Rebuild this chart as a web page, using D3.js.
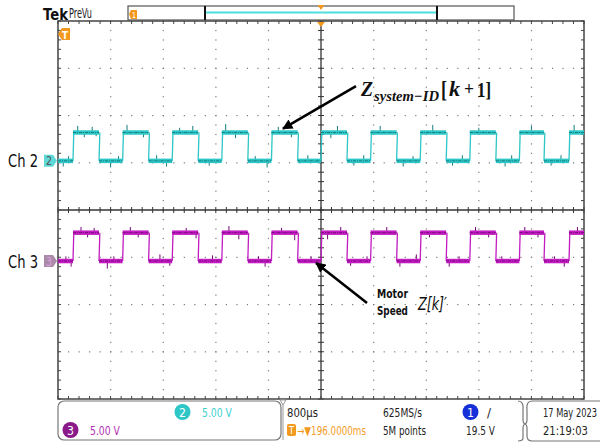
<!DOCTYPE html>
<html>
<head>
<meta charset="utf-8">
<script src="https://cdn.jsdelivr.net/npm/d3@7"></script>
<style>
  body { margin: 0; background: #fff; }
  svg { display: block; }
  .ui { font-family: "DejaVu Sans", sans-serif; }
</style>
</head>
<body>
<svg class="chart" width="600" height="443"></svg>
<script>
// horizontal: 800 us/div, 10 divs; vertical: 8 divs
var timeDomain = [-4000, 4000];
var divDomain = [-4, 4];
var voltsPerDiv = 5;

// edge times (us), same for both channels
var risingEdges = [-3772, -3017, -2263, -1509, -754, 0, 754, 1509, 2263, 3017, 3772];
var fallingEdges = [-3376, -2622, -1868, -1113, -355, 395, 1150, 1904, 2659, 3392];

var highVolts = 3.0, lowVolts = 0.0;
var ch2Offset = 1.04;   // divs
var ch3Offset = -1.08;

// noise spikes [time us, volts]
var ch2Spikes = [[-3920,-0.6],[-3840,0.5],[-3700,0.7],[-3600,-0.5],[-3480,0.6],[-3420,-0.4],[-3200,-0.7],[-3080,0.5],[-2950,0.8],[-2700,-0.5],[-2500,0.6],[-2350,-0.6],[-2150,0.5],[-1950,0.7],[-1700,-0.5],[-1450,0.9],[-1300,-0.6],[-1000,0.5],[-820,-0.7],[-650,0.6],[-450,-0.5],[-200,0.6],[150,-0.6],[250,0.7],[500,-0.5],[650,0.6],[900,0.7],[1250,-0.6],[1400,0.5],[1700,0.8],[2000,-0.5],[2150,0.6],[2400,0.5],[2800,-0.6],[2900,0.6],[3200,0.7],[3500,-0.5],[3650,0.6],[3850,0.8]];
var ch3Spikes = [[-3880,0.5],[-3800,-0.6],[-3650,0.6],[-3550,-0.5],[-3450,0.5],[-3250,-0.8],[-3150,0.5],[-2900,0.6],[-2780,-0.5],[-2450,0.7],[-2300,-0.5],[-2050,0.5],[-1900,-0.6],[-1650,0.6],[-1400,0.7],[-1250,-0.7],[-950,0.5],[-850,-0.6],[-600,0.5],[-400,-0.8],[-150,0.5],[100,-0.7],[300,0.6],[450,-0.5],[700,0.5],[1000,0.6],[1200,-0.6],[1450,0.7],[1650,-0.5],[1950,-0.6],[2100,0.5],[2350,0.6],[2550,-0.5],[2750,0.5],[3100,0.6],[3300,-0.5],[3550,0.5],[3700,-0.6],[3900,0.6]];

// annotations: tip [t, div], tail [t, div]
var arrows = [
  {tip: [-578, ch2Offset + 0.6 + 0.08], tail: [532, 2.62]},
  {tip: [-75, ch3Offset - 0.04], tail: [700, -1.97]}
];

var x = d3.scaleLinear().domain(timeDomain).range([58, 584]);
var y = d3.scaleLinear().domain(divDomain).range([399, 21]);

var svg = d3.select('.chart');

// text helper, squeezed horizontally to the width it has on the scope screen
function txt(g, px, py, str, w, size, color, family) {
  var t = g.append('text').attr('class', 'ui').attr('x', 0).attr('y', 0)
    .attr('font-size', size).attr('fill', color || '#222').text(str);
  if (family) t.style('font-family', family);
  t.attr('transform', 'translate(' + px + ',' + py + ')');
  t.fit = function() {
    if (w) {
      var nat = t.node().getComputedTextLength();
      t.attr('transform', 'translate(' + px + ',' + py + ') scale(' + (w / nat) + ',1)');
    }
    return t;
  };
  return t;
}

// ---------- graticule ----------
var grid = svg.append('g');
var xDivs = d3.range(-5, 6), yDivs = d3.range(-4, 5);
var xMinor = d3.range(-25, 26).map(function(d) { return d / 5; });
var yMinor = d3.range(-20, 21).map(function(d) { return d / 5; });
var xd = function(d) { return x(d * 800); };

// dotted lines
xDivs.slice(1, -1).forEach(function(v) {
  if (v == 0) return;
  grid.selectAll(null).data(yMinor).enter().append('rect')
    .attr('x', xd(v) - 0.5).attr('y', function(d) { return y(d) - 0.5; })
    .attr('width', 1.2).attr('height', 1.2).attr('fill', '#7a7a7a');
});
yDivs.slice(1, -1).forEach(function(v) {
  if (v == 0) return;
  grid.selectAll(null).data(xMinor).enter().append('rect')
    .attr('x', function(d) { return xd(d) - 0.5; }).attr('y', y(v) - 0.5)
    .attr('width', 1.2).attr('height', 1.2).attr('fill', '#7a7a7a');
});

// center axes
grid.append('line').attr('x1', x(0)).attr('x2', x(0)).attr('y1', y(4)).attr('y2', y(-4))
  .attr('stroke', '#333').attr('stroke-width', 1.3);
grid.append('line').attr('x1', x(-4000)).attr('x2', x(4000)).attr('y1', y(0)).attr('y2', y(0))
  .attr('stroke', '#333').attr('stroke-width', 1.3);
grid.selectAll(null).data(yMinor).enter().append('line')
  .attr('x1', x(0) - 3).attr('x2', x(0) + 3)
  .attr('y1', function(d) { return y(d); }).attr('y2', function(d) { return y(d); })
  .attr('stroke', '#333').attr('stroke-width', 1);
grid.selectAll(null).data(xMinor).enter().append('line')
  .attr('y1', y(0) - 3).attr('y2', y(0) + 3)
  .attr('x1', function(d) { return xd(d); }).attr('x2', function(d) { return xd(d); })
  .attr('stroke', '#333').attr('stroke-width', 1);

// border ticks
grid.selectAll(null).data(xMinor).enter().append('line')
  .attr('x1', function(d) { return xd(d); }).attr('x2', function(d) { return xd(d); })
  .attr('y1', y(4)).attr('y2', y(4) + 3).attr('stroke', '#444');
grid.selectAll(null).data(xMinor).enter().append('line')
  .attr('x1', function(d) { return xd(d); }).attr('x2', function(d) { return xd(d); })
  .attr('y1', y(-4)).attr('y2', y(-4) - 3).attr('stroke', '#444');
grid.selectAll(null).data(yMinor).enter().append('line')
  .attr('y1', function(d) { return y(d); }).attr('y2', function(d) { return y(d); })
  .attr('x1', x(-4000)).attr('x2', x(-4000) + 3).attr('stroke', '#444');
grid.selectAll(null).data(yMinor).enter().append('line')
  .attr('y1', function(d) { return y(d); }).attr('y2', function(d) { return y(d); })
  .attr('x1', x(4000)).attr('x2', x(4000) - 3).attr('stroke', '#444');

grid.append('rect').attr('x', x(-4000)).attr('y', y(4))
  .attr('width', x(4000) - x(-4000)).attr('height', y(-4) - y(4))
  .attr('fill', 'none').attr('stroke', '#444').attr('stroke-width', 1.5);

// ---------- traces ----------
function segments() {
  var edges = risingEdges.map(function(t) { return [t, 1]; })
    .concat(fallingEdges.map(function(t) { return [t, 0]; }))
    .sort(function(a, b) { return a[0] - b[0]; });
  var segs = [], t0 = timeDomain[0], state = 0;
  edges.forEach(function(e) {
    segs.push([t0, e[0], state]);
    t0 = e[0]; state = e[1];
  });
  segs.push([t0, timeDomain[1], state]);
  return segs;
}
var segs = segments();
function levelAt(t) {
  for (var i = 0; i < segs.length; i++) {
    if (t >= segs[i][0] && t <= segs[i][1]) return segs[i][2] ? highVolts : lowVolts;
  }
  return lowVolts;
}

function drawTrace(offset, spikes, light, dark) {
  var g = svg.append('g');
  var yv = function(v) { return y(offset + v / voltsPerDiv); };
  // edges
  segs.slice(1).forEach(function(s) {
    g.append('line').attr('x1', x(s[0])).attr('x2', x(s[0]) + 0.8)
      .attr('y1', yv(lowVolts)).attr('y2', yv(highVolts))
      .attr('stroke', light).attr('stroke-width', 1.3);
  });
  // spikes
  g.selectAll(null).data(spikes).enter().append('line')
    .attr('x1', function(d) { return x(d[0]); }).attr('x2', function(d) { return x(d[0]); })
    .attr('y1', function(d) { return yv(levelAt(d[0])); })
    .attr('y2', function(d) { return yv(levelAt(d[0]) + d[1]); })
    .attr('stroke', dark).attr('stroke-width', 1);
  // plateaus
  g.selectAll(null).data(segs).enter().append('line')
    .attr('x1', function(d) { return x(d[0]); }).attr('x2', function(d) { return x(d[1]); })
    .attr('y1', function(d) { return yv(d[2] ? highVolts : lowVolts); })
    .attr('y2', function(d) { return yv(d[2] ? highVolts : lowVolts); })
    .attr('stroke', light).attr('stroke-width', 4.5);
  g.selectAll(null).data(segs).enter().append('line')
    .attr('x1', function(d) { return x(d[0]); }).attr('x2', function(d) { return x(d[1]); })
    .attr('y1', function(d) { return yv(d[2] ? highVolts : lowVolts); })
    .attr('y2', function(d) { return yv(d[2] ? highVolts : lowVolts); })
    .attr('stroke', dark).attr('stroke-width', 1)
    .attr('stroke-dasharray', '3,1,1,1');
}
drawTrace(ch2Offset, ch2Spikes, '#2ec6c6', '#157f80');
drawTrace(ch3Offset, ch3Spikes, '#c21cc2', '#7a087a');

// ---------- channel labels / markers ----------
function chMarker(offset, label, fill, txtColor, name) {
  var cy = y(offset);
  svg.append('path')
    .attr('d', 'M44,' + (cy - 6) + 'H53L57,' + cy + 'L53,' + (cy + 6) + 'H44Z')
    .attr('fill', fill);
  txt(svg, 46, cy + 4.5, label, 6, 12, txtColor).fit();
  txt(svg, 8, cy + 6.5, name, 30, 18, '#111').fit();
}
chMarker(ch2Offset, '2', '#5fd8d8', '#555', 'Ch 2');
chMarker(ch3Offset, '3', '#a98aa9', '#e0a0e0', 'Ch 3');

// trigger marker T
svg.append('path').attr('d', 'M58,34L62,28H70V40H62Z').attr('fill', '#f39a1e');
txt(svg, 62, 38.5, 'T', 6, 11, '#fff').attr('font-weight', 'bold').fit();
// trigger position triangle
svg.append('path').attr('d', 'M' + (x(0) - 4) + ',22H' + (x(0) + 4) + 'L' + x(0) + ',27Z').attr('fill', '#f39a1e');

// ---------- top bar ----------
txt(svg, 43, 20, 'Tek', 25, 16, '#111').attr('font-weight', 'bold').fit();
txt(svg, 69, 18, 'PreVu', 23, 13.5, '#222').fit();
svg.append('rect').attr('x', 128).attr('y', 6).attr('width', 386).attr('height', 14)
  .attr('fill', '#fff').attr('stroke', '#555').attr('stroke-width', 1.2);
svg.append('line').attr('x1', 206).attr('x2', 436).attr('y1', 12.5).attr('y2', 12.5)
  .attr('stroke', '#4fdede').attr('stroke-width', 2);
svg.append('line').attr('x1', 205).attr('x2', 205).attr('y1', 6).attr('y2', 20)
  .attr('stroke', '#111').attr('stroke-width', 2);
svg.append('line').attr('x1', 437).attr('x2', 437).attr('y1', 6).attr('y2', 20)
  .attr('stroke', '#111').attr('stroke-width', 2);
svg.append('path').attr('d', 'M129,14L131,10H137V19H131Z').attr('fill', '#f39a1e');
txt(svg, 132, 18, '1', 4, 8, '#fff').fit();
svg.append('path').attr('d', 'M' + (x(0) - 3.5) + ',5H' + (x(0) + 3.5) + 'L' + x(0) + ',10Z').attr('fill', '#f39a1e');

// ---------- annotations ----------
svg.append('defs').append('marker').attr('id', 'ah')
  .attr('viewBox', '0 0 10 10').attr('refX', 9).attr('refY', 5)
  .attr('markerWidth', 4).attr('markerHeight', 4).attr('orient', 'auto')
  .append('path').attr('d', 'M0,0L10,5L0,10Z').attr('fill', '#000');
svg.selectAll(null).data(arrows).enter().append('line')
  .attr('x1', function(d) { return x(d.tail[0]); }).attr('y1', function(d) { return y(d.tail[1]); })
  .attr('x2', function(d) { return x(d.tip[0]); }).attr('y2', function(d) { return y(d.tip[1]); })
  .attr('stroke', '#000').attr('stroke-width', 2.6).attr('marker-end', 'url(#ah)');

var serif = '"Liberation Serif", "DejaVu Serif", serif';
function stxt(px, py, str, w, size, italic) {
  return txt(svg, px, py, str, w, size, '#111', serif).attr('font-weight', 'bold')
    .attr('font-style', italic ? 'italic' : 'normal').fit();
}
stxt(361, 96, 'Z', 12, 21, true);
stxt(374, 101, 'system\u2212ID', 65, 15, true);
stxt(441, 97, '[', 6, 23, false);
stxt(449, 96, 'k', 11, 22, true);
stxt(464, 95, '+', 10, 18, false);
stxt(477, 97, '1]', 14, 22, false);

txt(svg, 377, 298, 'Motor', 31, 12, '#111').attr('font-weight', 'bold').fit();
txt(svg, 377, 315, 'Speed', 31, 12, '#111').attr('font-weight', 'bold').fit();
txt(svg, 418, 310, 'Z[k]\u2032', 29, 17, '#111').attr('font-style', 'italic').fit();

// ---------- bottom status ----------
var st = svg.append('g');
st.append('rect').attr('x', 58).attr('y', 401).attr('width', 223).attr('height', 39).attr('rx', 6)
  .attr('fill', 'none').attr('stroke', '#777').attr('stroke-width', 1.2);
st.append('path').attr('d', 'M283,403V440').attr('stroke', '#999').attr('fill', 'none');
st.append('path').attr('d', 'M280,400L286,400L283,405Z').attr('fill', '#fff').attr('stroke', '#999');
st.append('path').attr('d', 'M518,401Q524,401 523,410V420Q523,424 526,424Q523,424 523,428V438Q523,441 518,441')
  .attr('fill', 'none').attr('stroke', '#777').attr('stroke-width', 1.2);
st.append('path').attr('d', 'M604,401H532Q526,401 527,410V420Q527,424 524,424Q527,424 527,428V436Q527,441 532,441H604')
  .attr('fill', 'none').attr('stroke', '#777').attr('stroke-width', 1.2);

st.append('circle').attr('cx', 182.5).attr('cy', 412).attr('r', 8).attr('fill', '#2ec6c6');
txt(st, 179, 416.5, '2', 7, 12, '#fff').fit();
txt(st, 202, 416.5, '5.00 V', 30, 12, '#3ed0d0').fit();
st.append('circle').attr('cx', 70.5).attr('cy', 430).attr('r', 8).attr('fill', '#8a1a8a');
txt(st, 67, 434.5, '3', 7, 12, '#fff').fit();
txt(st, 90, 434.5, '5.00 V', 30, 12, '#b030b0').fit();

txt(st, 287, 416.5, '800\u00b5s', 31, 12, '#222').fit();
st.append('rect').attr('x', 287).attr('y', 424).attr('width', 9).attr('height', 12).attr('rx', 2).attr('fill', '#f39a1e');
txt(st, 289, 434, 'T', 5, 10, '#fff').fit();
txt(st, 297, 434.5, '\u2192\u25bc196.0000ms', 69, 12, '#f39a1e').fit();
txt(st, 383, 416.5, '625MS/s', 39, 12, '#222').fit();
txt(st, 383, 434.5, '5M points', 43, 12, '#222').fit();
st.append('circle').attr('cx', 470.5).attr('cy', 412).attr('r', 8).attr('fill', '#1530d8');
txt(st, 467, 416.5, '1', 7, 12, '#fff').fit();
txt(st, 487, 416.5, '/', 4, 12, '#222').fit();
txt(st, 466, 434.5, '19.5 V', 29, 12, '#222').fit();
txt(st, 543, 416.5, '17 May  2023', 54, 12, '#222').fit();
txt(st, 543, 434.5, '21:19:03', 45, 12, '#222').fit();
</script>
</body>
</html>
